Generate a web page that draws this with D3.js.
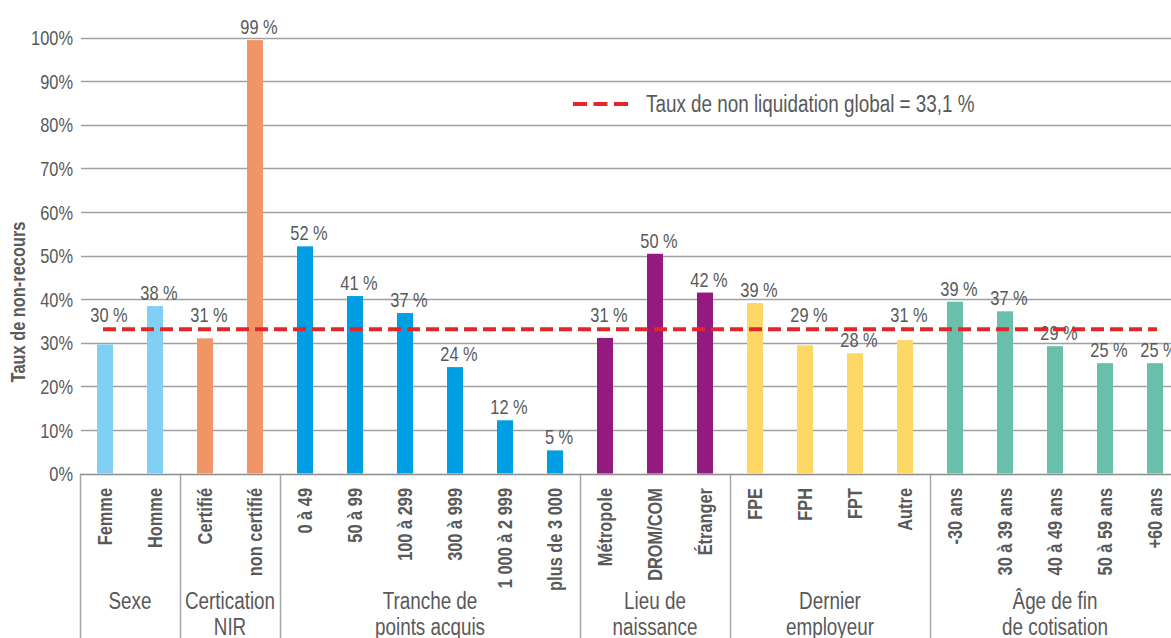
<!DOCTYPE html>
<meta charset="utf-8">
<head>
<style>
  body { margin: 0; background: #fff; }
  svg text { font-family: "Liberation Sans", Arial, sans-serif; fill: #595959; }
</style>
</head>
<body>
  <script src="https://d3js.org/d3.v7.min.js"></script>
  <script>
    // categories and their values (taux de non-recours, %)
    var categories = ["Femme", "Homme", "Certifié", "non certifié",
      "0 à 49", "50 à 99", "100 à 299", "300 à 999", "1 000 à 2 999", "plus de 3 000",
      "Métropole", "DROM/COM", "Étranger",
      "FPE", "FPH", "FPT", "Autre",
      "-30 ans", "30 à 39 ans", "40 à 49 ans", "50 à 59 ans", "+60  ans"];
    var values = [29.6, 38.4, 31.0, 99.4,
      52.1, 40.7, 36.8, 24.4, 12.2, 5.3,
      31.1, 50.4, 41.5,
      39.1, 29.4, 27.6, 30.6,
      39.4, 37.2, 29.2, 25.3, 25.3];

    // groups: label lines, number of categories, colour
    var groupNames = [["Sexe"], ["Certication", "NIR"], ["Tranche de", "points acquis"],
      ["Lieu de", "naissance"], ["Dernier", "employeur"], ["Âge de fin", "de cotisation"]];
    var groupSizes = [2, 2, 6, 3, 4, 5];
    var groupColors = ["#80cff4", "#f29566", "#009fe3", "#951a7f", "#fed866", "#67bfac"];

    var yTicks = [0, 10, 20, 30, 40, 50, 60, 70, 80, 90, 100];
    var globalRate = 33.1;
    var legendText = "Taux de non liquidation global = 33,1 %";
    // labels pushed above the dashed line in the original
    var labelAboveLine = ["Femme", "Certifié", "Métropole", "FPH", "Autre"];

    var width = 1171, height = 638;
    var narrow = " scale(0.82,1)"; // condensed look

    var svg = d3.select("body")
      .append("svg")
      .attr("width", width)
      .attr("height", height);

    var x = d3.scaleBand()
      .domain(categories)
      .range([80, 1180])
      .paddingInner(0.68)
      .paddingOuter(0.34);

    var y = d3.scaleLinear()
      .domain([0, 100])
      .range([473.5, 37.5]);

    // colour per category from its group
    var catColor = {};
    var groupStart = [];
    var k = 0;
    groupSizes.forEach(function (n, g) {
      groupStart.push(k);
      for (var i = 0; i < n; i++) { catColor[categories[k + i]] = groupColors[g]; }
      k += n;
    });

    function slotLeft(c) { return x(c) + x.bandwidth() / 2 - x.step() / 2; }
    function mid(c) { return x(c) + x.bandwidth() / 2; }

    // grid
    svg.append("g")
      .selectAll("line")
      .data(yTicks)
      .enter().append("line")
      .attr("x1", x.range()[0] + 1)
      .attr("x2", x.range()[1])
      .attr("y1", function (d) { return Math.round(y(d)) + 0.5; })
      .attr("y2", function (d) { return Math.round(y(d)) + 0.5; })
      .style("stroke", function (d) { return d === 0 ? "#8c8c8c" : "#a0a0a0"; })
      .style("stroke-width", 1.3);

    // y axis labels
    var yAxis = d3.axisLeft(y).tickValues(yTicks).tickSize(0).tickPadding(0)
      .tickFormat(function (d) { return d + "%"; });
    var gy = svg.append("g").attr("transform", "translate(73,0)").call(yAxis);
    gy.attr("font-family", null).attr("font-size", null);
    gy.select(".domain").remove();
    gy.selectAll("text")
      .attr("x", 0)
      .attr("dy", "0.36em")
      .attr("transform", "scale(0.82,1)")
      .attr("fill", null)
      .style("font-size", "20px");

    svg.append("text")
      .attr("transform", "translate(25,302) rotate(-90)" + narrow)
      .attr("text-anchor", "middle")
      .style("font-size", "20px")
      .style("font-weight", "bold")
      .text("Taux de non-recours");

    // bars
    svg.append("g")
      .selectAll("rect")
      .data(categories)
      .enter().append("rect")
      .attr("x", function (d) { return x(d); })
      .attr("width", x.bandwidth())
      .attr("y", function (d, i) { return y(values[i]); })
      .attr("height", function (d, i) { return y(0) - y(values[i]); })
      .style("fill", function (d) { return catColor[d]; });

    // value labels
    svg.append("g")
      .selectAll("text")
      .data(categories)
      .enter().append("text")
      .attr("transform", function (d, i) {
        var ly = labelAboveLine.indexOf(d) >= 0 ? y(globalRate) - 7 : y(values[i]) - 6;
        return "translate(" + (mid(d) + 4) + "," + ly + ")" + narrow;
      })
      .attr("text-anchor", "middle")
      .style("font-size", "20px")
      .text(function (d, i) { return Math.round(values[i]) + " %"; });

    // dashed global line
    svg.append("line")
      .attr("x1", mid(categories[0]) - 2)
      .attr("x2", mid(categories[categories.length - 1]) + 2)
      .attr("y1", y(globalRate))
      .attr("y2", y(globalRate))
      .style("stroke", "#e3262a")
      .style("stroke-width", 4)
      .style("stroke-dasharray", "13,6");

    // legend
    svg.append("line")
      .attr("x1", 573).attr("x2", 628)
      .attr("y1", 104).attr("y2", 104)
      .style("stroke", "#e3262a")
      .style("stroke-width", 4)
      .style("stroke-dasharray", "14,6.5");
    svg.append("text")
      .attr("transform", "translate(646,112)" + narrow)
      .style("font-size", "23px")
      .text(legendText);

    // category labels under the axis
    svg.append("g")
      .selectAll("text")
      .data(categories)
      .enter().append("text")
      .attr("transform", function (d) { return "translate(" + mid(d) + ",488) rotate(-90)" + narrow; })
      .attr("dy", "0.36em")
      .attr("text-anchor", "end")
      .style("font-size", "20px")
      .style("font-weight", "bold")
      .text(function (d) { return d; });

    // group separators
    svg.append("g")
      .selectAll("line")
      .data(groupStart)
      .enter().append("line")
      .attr("x1", function (i) { return Math.round(slotLeft(categories[i])) + 0.5; })
      .attr("x2", function (i) { return Math.round(slotLeft(categories[i])) + 0.5; })
      .attr("y1", y(0))
      .attr("y2", height)
      .style("stroke", "#a6a6a6")
      .style("stroke-width", 1.5);

    // group labels
    var gl = svg.append("g")
      .selectAll("text")
      .data(groupNames)
      .enter().append("text")
      .attr("text-anchor", "middle")
      .style("font-size", "23px")
      .attr("transform", function (d, g) {
        var first = categories[groupStart[g]];
        var last = categories[groupStart[g] + groupSizes[g] - 1];
        var cx = (slotLeft(first) + slotLeft(last) + x.step()) / 2;
        return "translate(" + cx + ",609)" + narrow;
      });
    gl.selectAll("tspan")
      .data(function (d) { return d; })
      .enter().append("tspan")
      .attr("x", 0)
      .attr("y", function (d, i) { return i * 26; })
      .text(function (d) { return d; });
  </script>
</body>

</html>
